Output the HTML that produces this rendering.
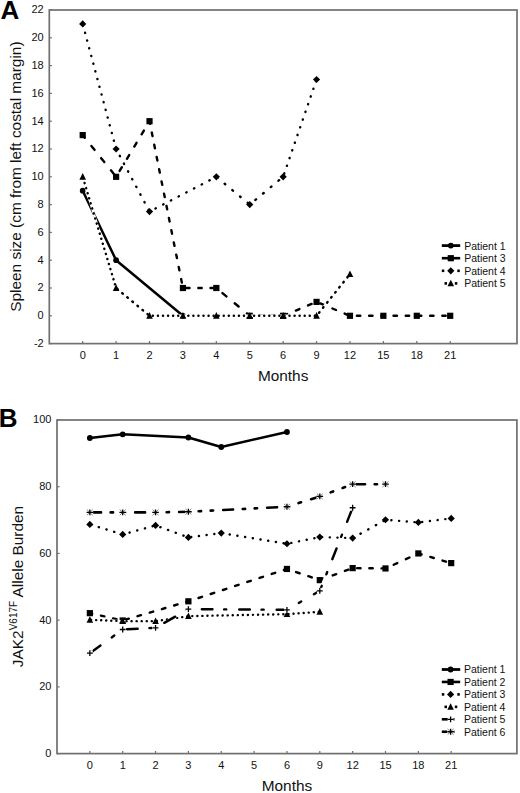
<!DOCTYPE html>
<html><head><meta charset="utf-8"><style>
html,body{margin:0;padding:0;background:#fff;}
body{width:520px;height:793px;overflow:hidden;font-family:"Liberation Sans", sans-serif;}
svg{display:block;}
</style></head><body>
<svg width="520" height="793" viewBox="0 0 520 793" font-family='"Liberation Sans", sans-serif'>
<rect width="520" height="793" fill="#fff"/>
<text x="0.6" y="18.7" font-size="26" text-anchor="start" font-weight="bold" fill="#000">A</text>
<path d="M49.3 343.6 H51.9" stroke="#707070" stroke-width="1.2"/>
<text x="43.7" y="347" font-size="11" text-anchor="end" font-weight="normal" fill="#111">-2</text>
<path d="M49.3 315.8 H51.9" stroke="#707070" stroke-width="1.2"/>
<text x="43.7" y="319.2" font-size="11" text-anchor="end" font-weight="normal" fill="#111">0</text>
<path d="M49.3 288 H51.9" stroke="#707070" stroke-width="1.2"/>
<text x="43.7" y="291.4" font-size="11" text-anchor="end" font-weight="normal" fill="#111">2</text>
<path d="M49.3 260.2 H51.9" stroke="#707070" stroke-width="1.2"/>
<text x="43.7" y="263.6" font-size="11" text-anchor="end" font-weight="normal" fill="#111">4</text>
<path d="M49.3 232.4 H51.9" stroke="#707070" stroke-width="1.2"/>
<text x="43.7" y="235.8" font-size="11" text-anchor="end" font-weight="normal" fill="#111">6</text>
<path d="M49.3 204.6 H51.9" stroke="#707070" stroke-width="1.2"/>
<text x="43.7" y="208" font-size="11" text-anchor="end" font-weight="normal" fill="#111">8</text>
<path d="M49.3 176.8 H51.9" stroke="#707070" stroke-width="1.2"/>
<text x="43.7" y="180.2" font-size="11" text-anchor="end" font-weight="normal" fill="#111">10</text>
<path d="M49.3 149 H51.9" stroke="#707070" stroke-width="1.2"/>
<text x="43.7" y="152.4" font-size="11" text-anchor="end" font-weight="normal" fill="#111">12</text>
<path d="M49.3 121.2 H51.9" stroke="#707070" stroke-width="1.2"/>
<text x="43.7" y="124.6" font-size="11" text-anchor="end" font-weight="normal" fill="#111">14</text>
<path d="M49.3 93.4 H51.9" stroke="#707070" stroke-width="1.2"/>
<text x="43.7" y="96.8" font-size="11" text-anchor="end" font-weight="normal" fill="#111">16</text>
<path d="M49.3 65.6 H51.9" stroke="#707070" stroke-width="1.2"/>
<text x="43.7" y="69" font-size="11" text-anchor="end" font-weight="normal" fill="#111">18</text>
<path d="M49.3 37.8 H51.9" stroke="#707070" stroke-width="1.2"/>
<text x="43.7" y="41.2" font-size="11" text-anchor="end" font-weight="normal" fill="#111">20</text>
<path d="M49.3 10 H51.9" stroke="#707070" stroke-width="1.2"/>
<text x="43.7" y="13.4" font-size="11" text-anchor="end" font-weight="normal" fill="#111">22</text>
<path d="M82.71 343.6 V341" stroke="#707070" stroke-width="1.2"/>
<text x="82.71" y="359" font-size="11" text-anchor="middle" font-weight="normal" fill="#111">0</text>
<path d="M116.11 343.6 V341" stroke="#707070" stroke-width="1.2"/>
<text x="116.11" y="359" font-size="11" text-anchor="middle" font-weight="normal" fill="#111">1</text>
<path d="M149.52 343.6 V341" stroke="#707070" stroke-width="1.2"/>
<text x="149.52" y="359" font-size="11" text-anchor="middle" font-weight="normal" fill="#111">2</text>
<path d="M182.93 343.6 V341" stroke="#707070" stroke-width="1.2"/>
<text x="182.93" y="359" font-size="11" text-anchor="middle" font-weight="normal" fill="#111">3</text>
<path d="M216.34 343.6 V341" stroke="#707070" stroke-width="1.2"/>
<text x="216.34" y="359" font-size="11" text-anchor="middle" font-weight="normal" fill="#111">4</text>
<path d="M249.74 343.6 V341" stroke="#707070" stroke-width="1.2"/>
<text x="249.74" y="359" font-size="11" text-anchor="middle" font-weight="normal" fill="#111">5</text>
<path d="M283.15 343.6 V341" stroke="#707070" stroke-width="1.2"/>
<text x="283.15" y="359" font-size="11" text-anchor="middle" font-weight="normal" fill="#111">6</text>
<path d="M316.56 343.6 V341" stroke="#707070" stroke-width="1.2"/>
<text x="316.56" y="359" font-size="11" text-anchor="middle" font-weight="normal" fill="#111">9</text>
<path d="M349.96 343.6 V341" stroke="#707070" stroke-width="1.2"/>
<text x="349.96" y="359" font-size="11" text-anchor="middle" font-weight="normal" fill="#111">12</text>
<path d="M383.37 343.6 V341" stroke="#707070" stroke-width="1.2"/>
<text x="383.37" y="359" font-size="11" text-anchor="middle" font-weight="normal" fill="#111">15</text>
<path d="M416.78 343.6 V341" stroke="#707070" stroke-width="1.2"/>
<text x="416.78" y="359" font-size="11" text-anchor="middle" font-weight="normal" fill="#111">18</text>
<path d="M450.19 343.6 V341" stroke="#707070" stroke-width="1.2"/>
<text x="450.19" y="359" font-size="11" text-anchor="middle" font-weight="normal" fill="#111">21</text>
<rect x="49.3" y="10" width="467.7" height="333.6" fill="none" stroke="#707070" stroke-width="1.7"/>
<text x="283.15" y="380.8" font-size="15.4" text-anchor="middle" font-weight="normal" fill="#111">Months</text>
<path d="M82.71 190.7 L116.11 260.2 L182.93 315.8" fill="none" stroke="#000" stroke-width="2.5" stroke-linejoin="round" stroke-linecap="round"/>
<circle cx="82.71" cy="190.7" r="2.9" fill="#000"/>
<circle cx="116.11" cy="260.2" r="2.9" fill="#000"/>
<circle cx="182.93" cy="315.8" r="2.9" fill="#000"/>
<path d="M82.71 135.1 L116.11 176.8 L149.52 121.2 L182.93 288 L216.34 288 L249.74 315.8 L283.15 315.8 L316.56 301.9 L349.96 315.8 L383.37 315.8 L416.78 315.8 L450.19 315.8" fill="none" stroke="#fff" stroke-width="2.4" stroke-linejoin="miter" stroke-linecap="butt"/>
<path d="M82.71 135.1 L116.11 176.8" fill="none" stroke="#000" stroke-width="2.4" stroke-dasharray="5.03 10.6" stroke-dashoffset="1.75" stroke-linecap="round"/>
<path d="M116.11 176.8 L149.52 121.2" fill="none" stroke="#000" stroke-width="2.4" stroke-dasharray="4.37 9.87" stroke-dashoffset="7.43" stroke-linecap="round"/>
<path d="M149.52 121.2 L182.93 288" fill="none" stroke="#000" stroke-width="2.4" stroke-dasharray="3.52 8.93" stroke-dashoffset="0.84" stroke-linecap="round"/>
<path d="M182.93 288 L216.34 288" fill="none" stroke="#000" stroke-width="2.4" stroke-dasharray="3.4 8.8" stroke-dashoffset="9" stroke-linecap="round"/>
<path d="M216.34 288 L249.74 315.8" fill="none" stroke="#000" stroke-width="2.4" stroke-dasharray="5.15 10.73" stroke-dashoffset="7.92" stroke-linecap="round"/>
<path d="M249.74 315.8 L283.15 315.8" fill="none" stroke="#000" stroke-width="2.4" stroke-dasharray="3.4 8.8" stroke-dashoffset="2.61" stroke-linecap="round"/>
<path d="M283.15 315.8 L316.56 301.9" fill="none" stroke="#000" stroke-width="2.4" stroke-dasharray="3.88 9.33" stroke-dashoffset="-0.53" stroke-linecap="round"/>
<path d="M316.56 301.9 L349.96 315.8" fill="none" stroke="#000" stroke-width="2.4" stroke-dasharray="3.88 9.33" stroke-dashoffset="9.23" stroke-linecap="round"/>
<path d="M349.96 315.8 L383.37 315.8" fill="none" stroke="#000" stroke-width="2.4" stroke-dasharray="3.4 8.8" stroke-dashoffset="5.24" stroke-linecap="round"/>
<path d="M383.37 315.8 L416.78 315.8" fill="none" stroke="#000" stroke-width="2.4" stroke-dasharray="3.4 8.8" stroke-dashoffset="2.04" stroke-linecap="round"/>
<path d="M416.78 315.8 L450.19 315.8" fill="none" stroke="#000" stroke-width="2.4" stroke-dasharray="3.4 8.8" stroke-dashoffset="-1.15" stroke-linecap="round"/>
<rect x="79.61" y="132" width="6.2" height="6.2" fill="#000"/>
<rect x="113.01" y="173.7" width="6.2" height="6.2" fill="#000"/>
<rect x="146.42" y="118.1" width="6.2" height="6.2" fill="#000"/>
<rect x="179.83" y="284.9" width="6.2" height="6.2" fill="#000"/>
<rect x="213.24" y="284.9" width="6.2" height="6.2" fill="#000"/>
<rect x="246.64" y="312.7" width="6.2" height="6.2" fill="#000"/>
<rect x="280.05" y="312.7" width="6.2" height="6.2" fill="#000"/>
<rect x="313.46" y="298.8" width="6.2" height="6.2" fill="#000"/>
<rect x="346.86" y="312.7" width="6.2" height="6.2" fill="#000"/>
<rect x="380.27" y="312.7" width="6.2" height="6.2" fill="#000"/>
<rect x="413.68" y="312.7" width="6.2" height="6.2" fill="#000"/>
<rect x="447.09" y="312.7" width="6.2" height="6.2" fill="#000"/>
<path d="M82.71 23.9 L116.11 149 L149.52 211.55 L216.34 176.8 L249.74 204.6 L283.15 176.8 L316.56 79.5" fill="none" stroke="#fff" stroke-width="2.4" stroke-linejoin="miter" stroke-linecap="butt"/>
<path d="M82.71 23.9 L116.11 149" fill="none" stroke="#000" stroke-width="2.4" stroke-dasharray="0.19 7.78" stroke-dashoffset="-1.2" stroke-linecap="round"/>
<path d="M116.11 149 L149.52 211.55" fill="none" stroke="#000" stroke-width="2.4" stroke-dasharray="0.43 8.3" stroke-dashoffset="0.95" stroke-linecap="round"/>
<path d="M149.52 211.55 L216.34 176.8" fill="none" stroke="#000" stroke-width="2.4" stroke-dasharray="0.42 8.26" stroke-dashoffset="2.01" stroke-linecap="round"/>
<path d="M216.34 176.8 L249.74 204.6" fill="none" stroke="#000" stroke-width="2.4" stroke-dasharray="0.85 9.16" stroke-dashoffset="-0.73" stroke-linecap="round"/>
<path d="M249.74 204.6 L283.15 176.8" fill="none" stroke="#000" stroke-width="2.4" stroke-dasharray="0.85 9.16" stroke-dashoffset="2.67" stroke-linecap="round"/>
<path d="M283.15 176.8 L316.56 79.5" fill="none" stroke="#000" stroke-width="2.4" stroke-dasharray="0.24 7.9" stroke-dashoffset="4.7" stroke-linecap="round"/>
<path d="M82.71 20.3 L86.31 23.9 L82.71 27.5 L79.11 23.9 Z" fill="#000"/>
<path d="M116.11 145.4 L119.71 149 L116.11 152.6 L112.51 149 Z" fill="#000"/>
<path d="M149.52 207.95 L153.12 211.55 L149.52 215.15 L145.92 211.55 Z" fill="#000"/>
<path d="M216.34 173.2 L219.94 176.8 L216.34 180.4 L212.74 176.8 Z" fill="#000"/>
<path d="M249.74 201 L253.34 204.6 L249.74 208.2 L246.14 204.6 Z" fill="#000"/>
<path d="M283.15 173.2 L286.75 176.8 L283.15 180.4 L279.55 176.8 Z" fill="#000"/>
<path d="M316.56 75.9 L320.16 79.5 L316.56 83.1 L312.96 79.5 Z" fill="#000"/>
<path d="M82.71 176.8 L116.11 288 L149.52 315.8 L182.93 315.8 L216.34 315.8 L249.74 315.8 L283.15 315.8 L316.56 315.8 L349.96 274.1" fill="none" stroke="#fff" stroke-width="2.4" stroke-linejoin="miter" stroke-linecap="butt"/>
<path d="M82.71 176.8 L116.11 288" fill="none" stroke="#000" stroke-width="2.4" stroke-dasharray="0.21 5.07" stroke-dashoffset="-1.2" stroke-linecap="round"/>
<path d="M116.11 288 L149.52 315.8" fill="none" stroke="#000" stroke-width="2.4" stroke-dasharray="0.85 5.73" stroke-dashoffset="5.23" stroke-linecap="round"/>
<path d="M149.52 315.8 L182.93 315.8" fill="none" stroke="#000" stroke-width="2.4" stroke-dasharray="0.1 4.96" stroke-dashoffset="1.73" stroke-linecap="round"/>
<path d="M182.93 315.8 L216.34 315.8" fill="none" stroke="#000" stroke-width="2.4" stroke-dasharray="0.1 4.96" stroke-dashoffset="-0.29" stroke-linecap="round"/>
<path d="M216.34 315.8 L249.74 315.8" fill="none" stroke="#000" stroke-width="2.4" stroke-dasharray="0.1 4.96" stroke-dashoffset="2.76" stroke-linecap="round"/>
<path d="M249.74 315.8 L283.15 315.8" fill="none" stroke="#000" stroke-width="2.4" stroke-dasharray="0.1 4.96" stroke-dashoffset="0.75" stroke-linecap="round"/>
<path d="M283.15 315.8 L316.56 315.8" fill="none" stroke="#000" stroke-width="2.4" stroke-dasharray="0.1 4.96" stroke-dashoffset="3.8" stroke-linecap="round"/>
<path d="M316.56 315.8 L349.96 274.1" fill="none" stroke="#000" stroke-width="2.4" stroke-dasharray="0.8 5.68" stroke-dashoffset="2.62" stroke-linecap="round"/>
<path d="M82.71 173.1 L86.01 179.7 L79.41 179.7 Z" fill="#000"/>
<path d="M116.11 284.3 L119.41 290.9 L112.81 290.9 Z" fill="#000"/>
<path d="M149.52 312.1 L152.82 318.7 L146.22 318.7 Z" fill="#000"/>
<path d="M182.93 312.1 L186.23 318.7 L179.63 318.7 Z" fill="#000"/>
<path d="M216.34 312.1 L219.64 318.7 L213.04 318.7 Z" fill="#000"/>
<path d="M249.74 312.1 L253.04 318.7 L246.44 318.7 Z" fill="#000"/>
<path d="M283.15 312.1 L286.45 318.7 L279.85 318.7 Z" fill="#000"/>
<path d="M316.56 312.1 L319.86 318.7 L313.26 318.7 Z" fill="#000"/>
<path d="M349.96 270.4 L353.26 277 L346.66 277 Z" fill="#000"/>
<path d="M441.8 245.6 H460.2" stroke="#000" stroke-width="2.8"/>
<circle cx="450.8" cy="245.6" r="2.9" fill="#000"/>
<text x="464.2" y="249.5" font-size="10.5" text-anchor="start" font-weight="normal" fill="#111">Patient 1</text>
<path d="M441.8 258.2 H460.2" stroke="#000" stroke-width="2.6"/>
<rect x="447.7" y="255.1" width="6.2" height="6.2" fill="#000"/>
<text x="464.2" y="262.1" font-size="10.5" text-anchor="start" font-weight="normal" fill="#111">Patient 3</text>
<path d="M441.8 270.8 H444.3" stroke="#000" stroke-width="2.6"/>
<path d="M457.3 270.8 H459.8" stroke="#000" stroke-width="2.6"/>
<path d="M450.8 267.2 L454.4 270.8 L450.8 274.4 L447.2 270.8 Z" fill="#000"/>
<text x="464.2" y="274.7" font-size="10.5" text-anchor="start" font-weight="normal" fill="#111">Patient 4</text>
<path d="M444.5 283.4 H447" stroke="#000" stroke-width="2.6"/>
<path d="M454.8 283.4 H457.3" stroke="#000" stroke-width="2.6"/>
<path d="M450.8 279.7 L454.1 286.3 L447.5 286.3 Z" fill="#000"/>
<text x="464.2" y="287.3" font-size="10.5" text-anchor="start" font-weight="normal" fill="#111">Patient 5</text>
<text transform="translate(21.3 176.6) rotate(-90)" font-size="15.4" text-anchor="middle" fill="#111">Spleen size (cm from left costal margin)</text>
<text x="-1.2" y="426.8" font-size="26" text-anchor="start" font-weight="bold" fill="#000">B</text>
<path d="M57 753.6 H59.6" stroke="#707070" stroke-width="1.2"/>
<text x="51.4" y="757" font-size="11" text-anchor="end" font-weight="normal" fill="#111">0</text>
<path d="M57 686.88 H59.6" stroke="#707070" stroke-width="1.2"/>
<text x="51.4" y="690.28" font-size="11" text-anchor="end" font-weight="normal" fill="#111">20</text>
<path d="M57 620.16 H59.6" stroke="#707070" stroke-width="1.2"/>
<text x="51.4" y="623.56" font-size="11" text-anchor="end" font-weight="normal" fill="#111">40</text>
<path d="M57 553.44 H59.6" stroke="#707070" stroke-width="1.2"/>
<text x="51.4" y="556.84" font-size="11" text-anchor="end" font-weight="normal" fill="#111">60</text>
<path d="M57 486.72 H59.6" stroke="#707070" stroke-width="1.2"/>
<text x="51.4" y="490.12" font-size="11" text-anchor="end" font-weight="normal" fill="#111">80</text>
<path d="M57 420 H59.6" stroke="#707070" stroke-width="1.2"/>
<text x="51.4" y="423.4" font-size="11" text-anchor="end" font-weight="normal" fill="#111">100</text>
<path d="M89.85 753.6 V751" stroke="#707070" stroke-width="1.2"/>
<text x="89.85" y="769" font-size="11" text-anchor="middle" font-weight="normal" fill="#111">0</text>
<path d="M122.7 753.6 V751" stroke="#707070" stroke-width="1.2"/>
<text x="122.7" y="769" font-size="11" text-anchor="middle" font-weight="normal" fill="#111">1</text>
<path d="M155.55 753.6 V751" stroke="#707070" stroke-width="1.2"/>
<text x="155.55" y="769" font-size="11" text-anchor="middle" font-weight="normal" fill="#111">2</text>
<path d="M188.4 753.6 V751" stroke="#707070" stroke-width="1.2"/>
<text x="188.4" y="769" font-size="11" text-anchor="middle" font-weight="normal" fill="#111">3</text>
<path d="M221.25 753.6 V751" stroke="#707070" stroke-width="1.2"/>
<text x="221.25" y="769" font-size="11" text-anchor="middle" font-weight="normal" fill="#111">4</text>
<path d="M254.1 753.6 V751" stroke="#707070" stroke-width="1.2"/>
<text x="254.1" y="769" font-size="11" text-anchor="middle" font-weight="normal" fill="#111">5</text>
<path d="M286.95 753.6 V751" stroke="#707070" stroke-width="1.2"/>
<text x="286.95" y="769" font-size="11" text-anchor="middle" font-weight="normal" fill="#111">6</text>
<path d="M319.8 753.6 V751" stroke="#707070" stroke-width="1.2"/>
<text x="319.8" y="769" font-size="11" text-anchor="middle" font-weight="normal" fill="#111">9</text>
<path d="M352.65 753.6 V751" stroke="#707070" stroke-width="1.2"/>
<text x="352.65" y="769" font-size="11" text-anchor="middle" font-weight="normal" fill="#111">12</text>
<path d="M385.5 753.6 V751" stroke="#707070" stroke-width="1.2"/>
<text x="385.5" y="769" font-size="11" text-anchor="middle" font-weight="normal" fill="#111">15</text>
<path d="M418.35 753.6 V751" stroke="#707070" stroke-width="1.2"/>
<text x="418.35" y="769" font-size="11" text-anchor="middle" font-weight="normal" fill="#111">18</text>
<path d="M451.2 753.6 V751" stroke="#707070" stroke-width="1.2"/>
<text x="451.2" y="769" font-size="11" text-anchor="middle" font-weight="normal" fill="#111">21</text>
<rect x="57" y="420" width="459.9" height="333.6" fill="none" stroke="#707070" stroke-width="1.7"/>
<text x="286.95" y="790.8" font-size="15.4" text-anchor="middle" font-weight="normal" fill="#111">Months</text>
<path d="M89.85 438.01 L122.7 434.34 L188.4 437.51 L221.25 447.02 L286.95 432.01" fill="none" stroke="#000" stroke-width="2.5" stroke-linejoin="round" stroke-linecap="round"/>
<circle cx="89.85" cy="438.01" r="2.9" fill="#000"/>
<circle cx="122.7" cy="434.34" r="2.9" fill="#000"/>
<circle cx="188.4" cy="437.51" r="2.9" fill="#000"/>
<circle cx="221.25" cy="447.02" r="2.9" fill="#000"/>
<circle cx="286.95" cy="432.01" r="2.9" fill="#000"/>
<path d="M89.85 613.15 L122.7 620.49 L188.4 601.31 L286.95 568.95 L319.8 580.13 L352.65 568.12 L385.5 568.45 L418.35 553.44 L451.2 563.11" fill="none" stroke="#fff" stroke-width="2.4" stroke-linejoin="miter" stroke-linecap="butt"/>
<path d="M89.85 613.15 L122.7 620.49" fill="none" stroke="#000" stroke-width="2.4" stroke-dasharray="3.54 8.96" stroke-dashoffset="1.16" stroke-linecap="round"/>
<path d="M122.7 620.49 L188.4 601.31" fill="none" stroke="#000" stroke-width="2.4" stroke-dasharray="3.64 9.07" stroke-dashoffset="10" stroke-linecap="round"/>
<path d="M188.4 601.31 L286.95 568.95" fill="none" stroke="#000" stroke-width="2.4" stroke-dasharray="3.7 9.14" stroke-dashoffset="2.22" stroke-linecap="round"/>
<path d="M286.95 568.95 L319.8 580.13" fill="none" stroke="#000" stroke-width="2.4" stroke-dasharray="3.73 9.16" stroke-dashoffset="3.24" stroke-linecap="round"/>
<path d="M319.8 580.13 L352.65 568.12" fill="none" stroke="#000" stroke-width="2.4" stroke-dasharray="3.78 9.21" stroke-dashoffset="-0.72" stroke-linecap="round"/>
<path d="M352.65 568.12 L385.5 568.45" fill="none" stroke="#000" stroke-width="2.4" stroke-dasharray="3.4 8.8" stroke-dashoffset="7.7" stroke-linecap="round"/>
<path d="M385.5 568.45 L418.35 553.44" fill="none" stroke="#000" stroke-width="2.4" stroke-dasharray="3.98 9.44" stroke-dashoffset="4.46" stroke-linecap="round"/>
<path d="M418.35 553.44 L451.2 563.11" fill="none" stroke="#000" stroke-width="2.4" stroke-dasharray="3.65 9.07" stroke-dashoffset="0.26" stroke-linecap="round"/>
<rect x="86.75" y="610.05" width="6.2" height="6.2" fill="#000"/>
<rect x="119.6" y="617.39" width="6.2" height="6.2" fill="#000"/>
<rect x="185.3" y="598.21" width="6.2" height="6.2" fill="#000"/>
<rect x="283.85" y="565.85" width="6.2" height="6.2" fill="#000"/>
<rect x="316.7" y="577.03" width="6.2" height="6.2" fill="#000"/>
<rect x="349.55" y="565.02" width="6.2" height="6.2" fill="#000"/>
<rect x="382.4" y="565.35" width="6.2" height="6.2" fill="#000"/>
<rect x="415.25" y="550.34" width="6.2" height="6.2" fill="#000"/>
<rect x="448.1" y="560.01" width="6.2" height="6.2" fill="#000"/>
<path d="M89.85 524.42 L122.7 534.42 L155.55 525.42 L188.4 537.43 L221.25 533.09 L286.95 543.77 L319.8 537.09 L352.65 538.09 L385.5 519.75 L418.35 522.42 L451.2 518.41" fill="none" stroke="#fff" stroke-width="2.4" stroke-linejoin="miter" stroke-linecap="butt"/>
<path d="M89.85 524.42 L122.7 534.42" fill="none" stroke="#000" stroke-width="2.4" stroke-dasharray="0.21 7.84" stroke-dashoffset="-1.2" stroke-linecap="round"/>
<path d="M122.7 534.42 L155.55 525.42" fill="none" stroke="#000" stroke-width="2.4" stroke-dasharray="0.19 7.79" stroke-dashoffset="0.93" stroke-linecap="round"/>
<path d="M155.55 525.42 L188.4 537.43" fill="none" stroke="#000" stroke-width="2.4" stroke-dasharray="0.26 7.94" stroke-dashoffset="3.17" stroke-linecap="round"/>
<path d="M188.4 537.43 L221.25 533.09" fill="none" stroke="#000" stroke-width="2.4" stroke-dasharray="0.12 7.65" stroke-dashoffset="5" stroke-linecap="round"/>
<path d="M221.25 533.09 L286.95 543.77" fill="none" stroke="#000" stroke-width="2.4" stroke-dasharray="0.13 7.67" stroke-dashoffset="-0.69" stroke-linecap="round"/>
<path d="M286.95 543.77 L319.8 537.09" fill="none" stroke="#000" stroke-width="2.4" stroke-dasharray="0.15 7.71" stroke-dashoffset="3.49" stroke-linecap="round"/>
<path d="M319.8 537.09 L352.65 538.09" fill="none" stroke="#000" stroke-width="2.4" stroke-dasharray="0.1 7.6" stroke-dashoffset="5.45" stroke-linecap="round"/>
<path d="M352.65 538.09 L385.5 519.75" fill="none" stroke="#000" stroke-width="2.4" stroke-dasharray="0.46 8.36" stroke-dashoffset="-0.05" stroke-linecap="round"/>
<path d="M385.5 519.75 L418.35 522.42" fill="none" stroke="#000" stroke-width="2.4" stroke-dasharray="0.11 7.62" stroke-dashoffset="1.86" stroke-linecap="round"/>
<path d="M418.35 522.42 L451.2 518.41" fill="none" stroke="#000" stroke-width="2.4" stroke-dasharray="0.12 7.64" stroke-dashoffset="3.94" stroke-linecap="round"/>
<path d="M89.85 520.82 L93.45 524.42 L89.85 528.02 L86.25 524.42 Z" fill="#000"/>
<path d="M122.7 530.82 L126.3 534.42 L122.7 538.02 L119.1 534.42 Z" fill="#000"/>
<path d="M155.55 521.82 L159.15 525.42 L155.55 529.02 L151.95 525.42 Z" fill="#000"/>
<path d="M188.4 533.83 L192 537.43 L188.4 541.03 L184.8 537.43 Z" fill="#000"/>
<path d="M221.25 529.49 L224.85 533.09 L221.25 536.69 L217.65 533.09 Z" fill="#000"/>
<path d="M286.95 540.17 L290.55 543.77 L286.95 547.37 L283.35 543.77 Z" fill="#000"/>
<path d="M319.8 533.49 L323.4 537.09 L319.8 540.69 L316.2 537.09 Z" fill="#000"/>
<path d="M352.65 534.49 L356.25 538.09 L352.65 541.69 L349.05 538.09 Z" fill="#000"/>
<path d="M385.5 516.15 L389.1 519.75 L385.5 523.35 L381.9 519.75 Z" fill="#000"/>
<path d="M418.35 518.82 L421.95 522.42 L418.35 526.02 L414.75 522.42 Z" fill="#000"/>
<path d="M451.2 514.81 L454.8 518.41 L451.2 522.01 L447.6 518.41 Z" fill="#000"/>
<path d="M89.85 619.83 L122.7 621.16 L155.55 621.16 L188.4 616.16 L286.95 614.16 L319.8 611.82" fill="none" stroke="#fff" stroke-width="2.4" stroke-linejoin="miter" stroke-linecap="butt"/>
<path d="M89.85 619.83 L122.7 621.16" fill="none" stroke="#000" stroke-width="2.4" stroke-dasharray="0.1 4.96" stroke-dashoffset="-1.2" stroke-linecap="round"/>
<path d="M122.7 621.16 L155.55 621.16" fill="none" stroke="#000" stroke-width="2.4" stroke-dasharray="0.1 4.96" stroke-dashoffset="1.29" stroke-linecap="round"/>
<path d="M155.55 621.16 L188.4 616.16" fill="none" stroke="#000" stroke-width="2.4" stroke-dasharray="0.13 4.99" stroke-dashoffset="3.84" stroke-linecap="round"/>
<path d="M188.4 616.16 L286.95 614.16" fill="none" stroke="#000" stroke-width="2.4" stroke-dasharray="0.1 4.96" stroke-dashoffset="1.21" stroke-linecap="round"/>
<path d="M286.95 614.16 L319.8 611.82" fill="none" stroke="#000" stroke-width="2.4" stroke-dasharray="0.11 4.97" stroke-dashoffset="3.63" stroke-linecap="round"/>
<path d="M89.85 616.13 L93.15 622.73 L86.55 622.73 Z" fill="#000"/>
<path d="M122.7 617.46 L126 624.06 L119.4 624.06 Z" fill="#000"/>
<path d="M155.55 617.46 L158.85 624.06 L152.25 624.06 Z" fill="#000"/>
<path d="M188.4 612.46 L191.7 619.06 L185.1 619.06 Z" fill="#000"/>
<path d="M286.95 610.46 L290.25 617.06 L283.65 617.06 Z" fill="#000"/>
<path d="M319.8 608.12 L323.1 614.72 L316.5 614.72 Z" fill="#000"/>
<path d="M89.85 653.19 L122.7 629.5 L155.55 627.83 L188.4 609.15 L286.95 609.82 L319.8 590.8 L352.65 507.74" fill="none" stroke="#fff" stroke-width="2.4" stroke-linejoin="miter" stroke-linecap="butt"/>
<path d="M89.85 653.19 L122.7 629.5" fill="none" stroke="#000" stroke-width="2.4" stroke-dasharray="13.63 13.87 3.15 15.47" stroke-dashoffset="0.53" stroke-linecap="round"/>
<path d="M122.7 629.5 L155.55 627.83" fill="none" stroke="#000" stroke-width="2.4" stroke-dasharray="10.62 11.71 2.11 13.01" stroke-dashoffset="33.09" stroke-linecap="round"/>
<path d="M155.55 627.83 L188.4 609.15" fill="none" stroke="#000" stroke-width="2.4" stroke-dasharray="12.56 13.1 2.78 14.59" stroke-dashoffset="32.97" stroke-linecap="round"/>
<path d="M188.4 609.15 L286.95 609.82" fill="none" stroke="#000" stroke-width="2.4" stroke-dasharray="10.6 11.7 2.1 13" stroke-dashoffset="23.95" stroke-linecap="round"/>
<path d="M286.95 609.82 L319.8 590.8" fill="none" stroke="#000" stroke-width="2.4" stroke-dasharray="12.62 13.15 2.8 14.65" stroke-dashoffset="12.09" stroke-linecap="round"/>
<path d="M319.8 590.8 L352.65 507.74" fill="none" stroke="#000" stroke-width="2.4" stroke-dasharray="11.58 12.4 2.44 13.8" stroke-dashoffset="6.27" stroke-linecap="round"/>
<rect x="86.95" y="650.29" width="5.8" height="5.8" fill="#fff"/>
<path d="M86.95 653.19 H92.75 M89.85 650.29 V656.09" stroke="#000" stroke-width="1.3" fill="none"/>
<rect x="119.8" y="626.6" width="5.8" height="5.8" fill="#fff"/>
<path d="M119.8 629.5 H125.6 M122.7 626.6 V632.4" stroke="#000" stroke-width="1.3" fill="none"/>
<rect x="152.65" y="624.93" width="5.8" height="5.8" fill="#fff"/>
<path d="M152.65 627.83 H158.45 M155.55 624.93 V630.73" stroke="#000" stroke-width="1.3" fill="none"/>
<rect x="185.5" y="606.25" width="5.8" height="5.8" fill="#fff"/>
<path d="M185.5 609.15 H191.3 M188.4 606.25 V612.05" stroke="#000" stroke-width="1.3" fill="none"/>
<rect x="284.05" y="606.92" width="5.8" height="5.8" fill="#fff"/>
<path d="M284.05 609.82 H289.85 M286.95 606.92 V612.72" stroke="#000" stroke-width="1.3" fill="none"/>
<rect x="316.9" y="587.9" width="5.8" height="5.8" fill="#fff"/>
<path d="M316.9 590.8 H322.7 M319.8 587.9 V593.7" stroke="#000" stroke-width="1.3" fill="none"/>
<rect x="349.75" y="504.84" width="5.8" height="5.8" fill="#fff"/>
<path d="M349.75 507.74 H355.55 M352.65 504.84 V510.64" stroke="#000" stroke-width="1.3" fill="none"/>
<path d="M89.85 512.41 L122.7 512.41 L155.55 512.41 L188.4 511.74 L286.95 506.74 L319.8 496.39 L352.65 484.22 L385.5 484.22" fill="none" stroke="#fff" stroke-width="2.6" stroke-linejoin="miter" stroke-linecap="butt"/>
<path d="M89.85 512.41 L122.7 512.41" fill="none" stroke="#000" stroke-width="2.6" stroke-dasharray="9.9 9.6 2.4 9.6 2.4 10.1" stroke-dashoffset="-1.3" stroke-linecap="round"/>
<path d="M122.7 512.41 L155.55 512.41" fill="none" stroke="#000" stroke-width="2.6" stroke-dasharray="9.9 9.6 2.4 9.6 2.4 10.1" stroke-dashoffset="31.55" stroke-linecap="round"/>
<path d="M155.55 512.41 L188.4 511.74" fill="none" stroke="#000" stroke-width="2.6" stroke-dasharray="9.9 9.6 2.4 9.6 2.4 10.1" stroke-dashoffset="20.4" stroke-linecap="round"/>
<path d="M188.4 511.74 L286.95 506.74" fill="none" stroke="#000" stroke-width="2.6" stroke-dasharray="9.92 9.61 2.41 9.61 2.41 10.11" stroke-dashoffset="9.26" stroke-linecap="round"/>
<path d="M286.95 506.74 L319.8 496.39" fill="none" stroke="#000" stroke-width="2.6" stroke-dasharray="10.5 9.94 2.64 9.94 2.64 10.46" stroke-dashoffset="20.82" stroke-linecap="round"/>
<path d="M319.8 496.39 L352.65 484.22" fill="none" stroke="#000" stroke-width="2.6" stroke-dasharray="10.73 10.07 2.73 10.07 2.73 10.6" stroke-dashoffset="9.31" stroke-linecap="round"/>
<path d="M352.65 484.22 L385.5 484.22" fill="none" stroke="#000" stroke-width="2.6" stroke-dasharray="9.9 9.6 2.4 9.6 2.4 10.1" stroke-dashoffset="41.5" stroke-linecap="round"/>
<rect x="86.55" y="509.51" width="6.6" height="5.8" fill="#fff"/>
<path d="M86.85 509.51 L92.85 515.31 M86.85 515.31 L92.85 509.51" stroke="#777" stroke-width="0.9" fill="none"/>
<path d="M86.55 512.41 H93.15 M89.85 509.51 V515.31" stroke="#000" stroke-width="1.3" fill="none"/>
<rect x="119.4" y="509.51" width="6.6" height="5.8" fill="#fff"/>
<path d="M119.7 509.51 L125.7 515.31 M119.7 515.31 L125.7 509.51" stroke="#777" stroke-width="0.9" fill="none"/>
<path d="M119.4 512.41 H126 M122.7 509.51 V515.31" stroke="#000" stroke-width="1.3" fill="none"/>
<rect x="152.25" y="509.51" width="6.6" height="5.8" fill="#fff"/>
<path d="M152.55 509.51 L158.55 515.31 M152.55 515.31 L158.55 509.51" stroke="#777" stroke-width="0.9" fill="none"/>
<path d="M152.25 512.41 H158.85 M155.55 509.51 V515.31" stroke="#000" stroke-width="1.3" fill="none"/>
<rect x="185.1" y="508.84" width="6.6" height="5.8" fill="#fff"/>
<path d="M185.4 508.84 L191.4 514.64 M185.4 514.64 L191.4 508.84" stroke="#777" stroke-width="0.9" fill="none"/>
<path d="M185.1 511.74 H191.7 M188.4 508.84 V514.64" stroke="#000" stroke-width="1.3" fill="none"/>
<rect x="283.65" y="503.84" width="6.6" height="5.8" fill="#fff"/>
<path d="M283.95 503.84 L289.95 509.64 M283.95 509.64 L289.95 503.84" stroke="#777" stroke-width="0.9" fill="none"/>
<path d="M283.65 506.74 H290.25 M286.95 503.84 V509.64" stroke="#000" stroke-width="1.3" fill="none"/>
<rect x="316.5" y="493.49" width="6.6" height="5.8" fill="#fff"/>
<path d="M316.8 493.49 L322.8 499.29 M316.8 499.29 L322.8 493.49" stroke="#777" stroke-width="0.9" fill="none"/>
<path d="M316.5 496.39 H323.1 M319.8 493.49 V499.29" stroke="#000" stroke-width="1.3" fill="none"/>
<rect x="349.35" y="481.32" width="6.6" height="5.8" fill="#fff"/>
<path d="M349.65 481.32 L355.65 487.12 M349.65 487.12 L355.65 481.32" stroke="#777" stroke-width="0.9" fill="none"/>
<path d="M349.35 484.22 H355.95 M352.65 481.32 V487.12" stroke="#000" stroke-width="1.3" fill="none"/>
<rect x="382.2" y="481.32" width="6.6" height="5.8" fill="#fff"/>
<path d="M382.5 481.32 L388.5 487.12 M382.5 487.12 L388.5 481.32" stroke="#777" stroke-width="0.9" fill="none"/>
<path d="M382.2 484.22 H388.8 M385.5 481.32 V487.12" stroke="#000" stroke-width="1.3" fill="none"/>
<path d="M441.8 669.5 H460.2" stroke="#000" stroke-width="2.8"/>
<circle cx="450.6" cy="669.5" r="2.9" fill="#000"/>
<text x="464" y="673.4" font-size="10.5" text-anchor="start" font-weight="normal" fill="#111">Patient 1</text>
<path d="M441.8 681.95 H460.2" stroke="#000" stroke-width="2.6"/>
<rect x="447.5" y="678.85" width="6.2" height="6.2" fill="#000"/>
<text x="464" y="685.85" font-size="10.5" text-anchor="start" font-weight="normal" fill="#111">Patient 2</text>
<path d="M441.8 694.4 H444.3" stroke="#000" stroke-width="2.6"/>
<path d="M457.3 694.4 H459.8" stroke="#000" stroke-width="2.6"/>
<path d="M450.6 690.8 L454.2 694.4 L450.6 698 L447 694.4 Z" fill="#000"/>
<text x="464" y="698.3" font-size="10.5" text-anchor="start" font-weight="normal" fill="#111">Patient 3</text>
<path d="M444.5 706.85 H447" stroke="#000" stroke-width="2.6"/>
<path d="M454.8 706.85 H457.3" stroke="#000" stroke-width="2.6"/>
<path d="M450.6 703.15 L453.9 709.75 L447.3 709.75 Z" fill="#000"/>
<text x="464" y="710.75" font-size="10.5" text-anchor="start" font-weight="normal" fill="#111">Patient 4</text>
<path d="M441.8 719.3 H454.5" stroke="#000" stroke-width="2.6"/>
<rect x="447.7" y="716.4" width="5.8" height="5.8" fill="#fff"/>
<path d="M447.7 719.3 H453.5 M450.6 716.4 V722.2" stroke="#000" stroke-width="1.3" fill="none"/>
<text x="464" y="723.2" font-size="10.5" text-anchor="start" font-weight="normal" fill="#111">Patient 5</text>
<path d="M441.8 731.75 H447.5" stroke="#000" stroke-width="2.6"/>
<path d="M452.5 731.75 H454.5" stroke="#000" stroke-width="2.6"/>
<rect x="447.3" y="728.85" width="6.6" height="5.8" fill="#fff"/>
<path d="M447.6 728.85 L453.6 734.65 M447.6 734.65 L453.6 728.85" stroke="#777" stroke-width="0.9" fill="none"/>
<path d="M447.3 731.75 H453.9 M450.6 728.85 V734.65" stroke="#000" stroke-width="1.3" fill="none"/>
<text x="464" y="735.65" font-size="10.5" text-anchor="start" font-weight="normal" fill="#111">Patient 6</text>
<text transform="translate(23.3 586.5) rotate(-90)" font-size="15.4" text-anchor="middle" fill="#111">JAK2<tspan font-size="10" dy="-6.6">V617F</tspan><tspan dy="6.6"> Allele Burden</tspan></text>
</svg>
</body></html>
